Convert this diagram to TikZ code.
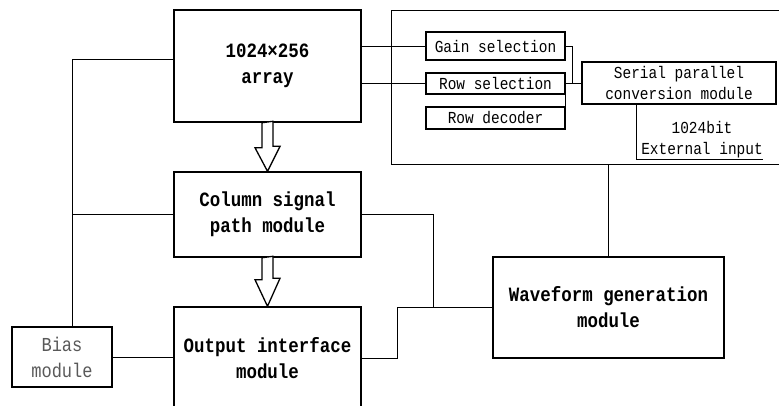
\documentclass[tikz,border=0pt]{standalone}
\usepackage{fontspec}
\newfontfamily\cnmono[FakeStretch=0.86]{Liberation Mono}
\usetikzlibrary{calc}
\begin{document}
\begin{tikzpicture}[x=1pt,y=-1pt,
  mainbox/.style={draw,line width=1.4pt,inner sep=0pt,align=center,
    font=\cnmono\bfseries\fontsize{20.3}{26}\selectfont},
  smallbox/.style={draw,line width=1.6pt,inner sep=0pt,align=center,
    font=\cnmono\fontsize{16.8}{21}\selectfont},
  biasbox/.style={draw,line width=1.3pt,inner sep=0pt,align=center,text=black!65,
    font=\cnmono\fontsize{19.8}{26}\selectfont},
  wire/.style={line width=0.8pt},
  blockarrow/.style={draw,line width=1.3pt,fill=white,line join=miter}]
\useasboundingbox (0,0) rectangle (779,405);
% outer control frame (right edge off the picture)
\node[draw,line width=0.9pt,minimum width=400pt,minimum height=154pt,inner sep=0pt,anchor=north west] (ctrl) at (391,10) {};
% main blocks
\node[mainbox,minimum width=187pt,minimum height=112pt] (array) at (267.5,66) {1024×256\\array};
\node[mainbox,minimum width=187pt,minimum height=85pt] (col) at (267.5,214.5) {Column signal\\path module};
\node[mainbox,minimum width=187pt,minimum height=102pt] (out) at (267.5,358) {Output interface\\module};
\node[mainbox,minimum width=231pt,minimum height=101pt] (wave) at (608.5,307.5) {Waveform generation\\module};
\node[biasbox,minimum width=100pt,minimum height=60pt] (bias) at (62,357) {Bias\\module};
% control blocks
\node[smallbox,minimum width=139pt,minimum height=28pt] (gain) at (495.5,46) {Gain selection};
\node[smallbox,minimum width=139pt,minimum height=21pt] (rowsel) at (495.5,83.5) {Row selection};
\node[smallbox,minimum width=139pt,minimum height=22pt] (rowdec) at (495.5,118) {Row decoder};
\node[smallbox,minimum width=194pt,minimum height=42pt] (serial) at (679,83) {Serial parallel\\conversion module};
\node[font=\cnmono\fontsize{16.8}{21}\selectfont,align=center,inner sep=0pt] (ext) at (702,140) {1024bit\\External input};
% block arrows
\draw[blockarrow] (array.south) ++(-5.5,0) -- ++(0,25) -- ++(-7,0) -- (col.north) -- ++(12.5,-25) -- ++(-7,0) -- ++(0,-25) -- cycle;
\draw[blockarrow] (col.south) ++(-5.5,0) -- ++(0,22) -- ++(-7,0) -- (out.north) -- ++(12.5,-28) -- ++(-7,0) -- ++(0,-22) -- cycle;
% wires in the control frame
\draw[wire] (gain.west) -- (gain.west -| array.east);
\draw[wire] (rowsel.west) -- (rowsel.west -| array.east);
\draw[wire] (gain.east) -- ++(7,0) coordinate (gj) |- (serial.west);
\draw[wire] (rowsel.east) -- (rowsel.east -| serial.west);
\draw[wire] (rowsel.south east) -- (rowdec.north east);
\coordinate (extend) at ($(ext.south east)+(0,1)$);
\draw[line width=1.2pt] ($(serial.south west)+(55,0)$) |- (extend);
% waveform to control frame
\draw[wire] (wave.north) -- (wave.north |- ctrl.south);
% left bias wiring
\coordinate (lb) at ($(bias.north)+(10,0)$);
\draw[wire] ($(array.west)+(0,-7)$) -| (lb);
\draw[wire] (col.west) -- (col.west -| lb);
\draw[wire] (bias.east) -- (bias.east -| out.west);
% right waveform wiring
\coordinate (wj) at ($(wave.west)+(-59,0)$);
\draw[wire] (col.east) -| (wj) -- (wave.west);
\draw[wire] (out.east) -- ++(36,0) |- (wave.west);
\end{tikzpicture}
\end{document}
